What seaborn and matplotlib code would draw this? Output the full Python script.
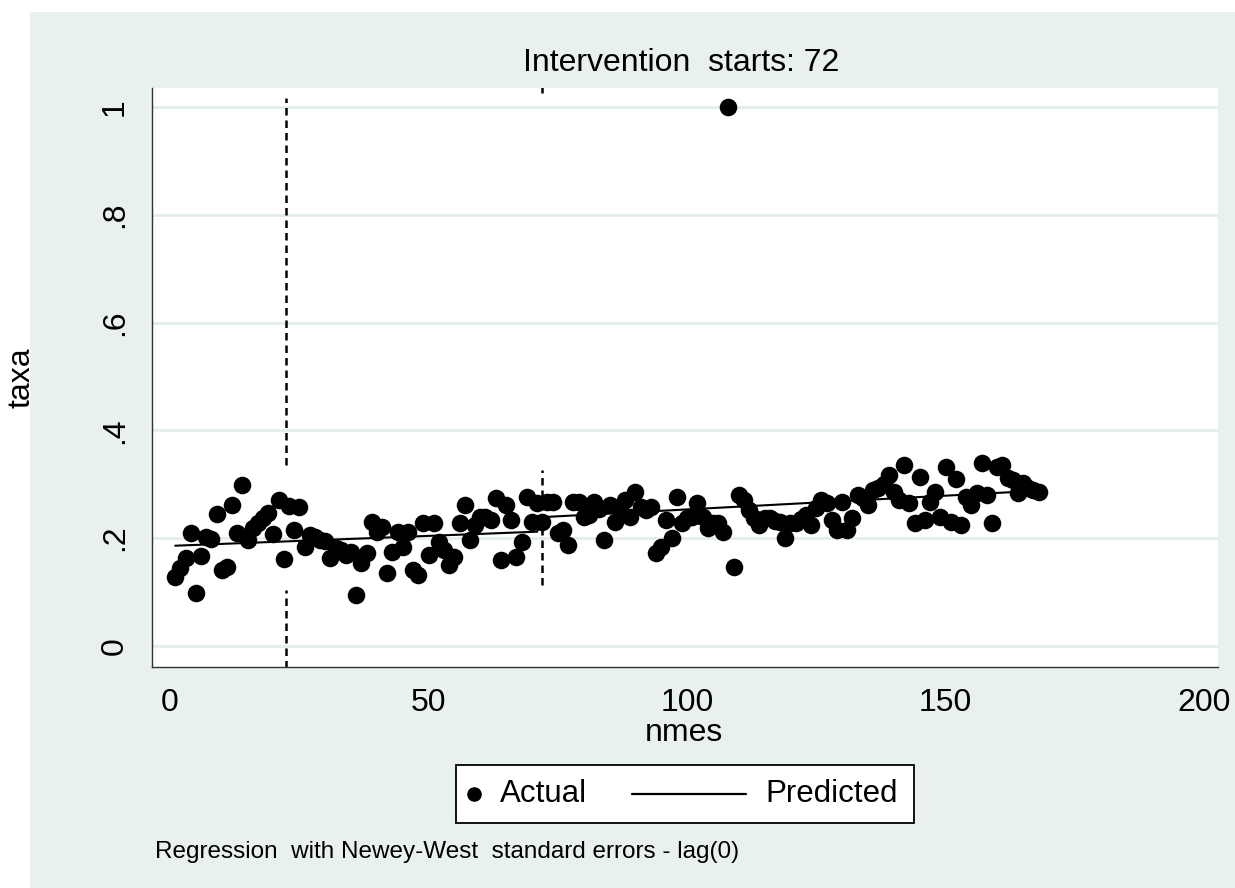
import numpy as np
import pandas as pd
import matplotlib
matplotlib.use("Agg")
import matplotlib.pyplot as plt
from matplotlib.lines import Line2D
from matplotlib.patches import Rectangle
import seaborn as sns

# ---------------- data ----------------
taxa = [
    0.128, 0.145, 0.163, 0.210, 0.098, 0.167, 0.202, 0.198, 0.245, 0.141,
    0.147, 0.262, 0.210, 0.299, 0.197, 0.219, 0.228, 0.237, 0.247, 0.208,
    0.271, 0.161, 0.260, 0.215, 0.258, 0.184, 0.206, 0.202, 0.197, 0.195,
    0.163, 0.182, 0.178, 0.169, 0.175, 0.095, 0.154, 0.172, 0.230, 0.212,
    0.221, 0.135, 0.174, 0.212, 0.184, 0.212, 0.141, 0.132, 0.228, 0.169,
    0.228, 0.193, 0.178, 0.150, 0.165, 0.228, 0.262, 0.197, 0.224, 0.240,
    0.240, 0.234, 0.274, 0.160, 0.262, 0.234, 0.165, 0.193, 0.277, 0.230,
    0.265, 0.230, 0.267, 0.267, 0.210, 0.215, 0.187, 0.267, 0.267, 0.240,
    0.243, 0.267, 0.255, 0.197, 0.262, 0.230, 0.252, 0.271, 0.240, 0.286,
    0.258, 0.252, 0.258, 0.172, 0.184, 0.234, 0.200, 0.277, 0.228, 0.237,
    0.240, 0.265, 0.240, 0.219, 0.228, 0.228, 0.212, 1.000, 0.147, 0.280,
    0.271, 0.252, 0.237, 0.224, 0.237, 0.237, 0.232, 0.230, 0.200, 0.228,
    0.228, 0.235, 0.243, 0.224, 0.256, 0.271, 0.265, 0.234, 0.215, 0.267,
    0.215, 0.237, 0.280, 0.275, 0.262, 0.289, 0.293, 0.300, 0.317, 0.286,
    0.271, 0.336, 0.265, 0.228, 0.314, 0.234, 0.267, 0.286, 0.240, 0.332,
    0.230, 0.310, 0.224, 0.277, 0.262, 0.284, 0.340, 0.280, 0.228, 0.332,
    0.336, 0.312, 0.308, 0.284, 0.302, 0.293, 0.290, 0.286,
]
nmes = list(range(1, len(taxa) + 1))

pred_x = [1, 71, 72, 168]
pred_y = [0.186, 0.212, 0.239, 0.288]

# dashed reference lines (x position, visible y-segments)
vline_x = [22.5, 22.5, 72, 72]
vline_ymin = [-0.040, 0.336, 0.113, 1.026]
vline_ymax = [0.104, 1.017, 0.327, 1.036]

xticks = [0, 50, 100, 150, 200]
xticklabels = ["0", "50", "100", "150", "200"]
yticks = [0, 0.2, 0.4, 0.6, 0.8, 1.0]
yticklabels = ["0", ".2", ".4", ".6", ".8", "1"]

title = "Intervention  starts: 72"
xlabel = "nmes"
ylabel = "taxa"
note = "Regression  with Newey-West  standard errors - lag(0)"
legend_labels = ["Actual", "Predicted"]

# ---------------- style ----------------
sns.set_style("white")
plt.rcParams["font.family"] = ["Liberation Sans", "DejaVu Sans"]
plt.rcParams["text.color"] = "black"
plt.rcParams["xtick.color"] = "black"
plt.rcParams["ytick.color"] = "black"

BG = "#E8F0F0"
GRID = "#E4EDED"
W, H = 1235, 888

fig = plt.figure(figsize=(W / 100, H / 100), dpi=100)
fig.patch.set_facecolor("white")
fig.add_artist(Rectangle((30 / W, 0), 1 - 30 / W, 1 - 12 / H,
                         transform=fig.transFigure, facecolor=BG,
                         edgecolor="none", zorder=-10))

ax = fig.add_axes([152 / W, 1 - 667 / H, (1218 - 152) / W, (667 - 88) / H])
ax.set_facecolor("white")

df = pd.DataFrame({"nmes": nmes, "taxa": taxa})
pdf = pd.DataFrame({"nmes": pred_x, "pred": pred_y})

for yv in yticks:
    ax.axhline(yv, color=GRID, lw=2.0, zorder=0)

ax.vlines(vline_x, vline_ymin, vline_ymax, colors="black",
          linestyles=(0, (3, 2)), lw=1.8, zorder=1)

sns.scatterplot(data=df, x="nmes", y="taxa", color="black", s=160,
                linewidth=0, ax=ax, zorder=3, legend=False)
sns.lineplot(data=pdf, x="nmes", y="pred", color="black", lw=1.5,
             sort=False, estimator=None, ax=ax, zorder=2, legend=False)

ax.set_xlim(-3.5, 202.7)
ax.set_ylim(-0.039, 1.035)
ax.set_xticks(xticks)
ax.set_xticklabels(xticklabels)
ax.set_yticks(yticks)
ax.set_yticklabels(yticklabels, rotation=90, va="center")
ax.set_xlabel("")
ax.set_ylabel("")

for s in ["top", "right"]:
    ax.spines[s].set_visible(False)
for s in ["left", "bottom"]:
    ax.spines[s].set_color("#333333")
    ax.spines[s].set_linewidth(1.0)

ax.tick_params(axis="both", direction="out", length=10, width=1.0,
               color="#333333", labelsize=23, labelcolor="black")
ax.tick_params(axis="x", pad=5)
ax.tick_params(axis="y", pad=6)

fig.text(681 / W, 1 - 63 / H, title, ha="center", va="center", fontsize=23)
fig.text(684 / W, 1 - 733 / H, xlabel, ha="center", va="center", fontsize=23)
fig.text(22 / W, 1 - 378 / H, ylabel, ha="center", va="center",
         fontsize=23, rotation=90)
fig.text(155 / W, 1 - 852 / H, note, ha="left", va="center", fontsize=17.5)

# legend box
fig.add_artist(Rectangle((456 / W, 1 - 823 / H), (914 - 456) / W, (823 - 765) / H,
                         transform=fig.transFigure, facecolor="white",
                         edgecolor="black", lw=1.3))
ly = 1 - 794 / H
fig.add_artist(Line2D([474 / W], [ly], marker="o", ms=9.5, color="black",
                      lw=0, transform=fig.transFigure))
fig.text(500 / W, ly, legend_labels[0], ha="left", va="center", fontsize=22.5)
fig.add_artist(Line2D([632 / W, 746 / W], [ly, ly], color="black", lw=1.6,
                      transform=fig.transFigure))
fig.text(765 / W, ly, legend_labels[1], ha="left", va="center", fontsize=22.5)

fig.savefig("out.png", dpi=100, facecolor=fig.get_facecolor())
